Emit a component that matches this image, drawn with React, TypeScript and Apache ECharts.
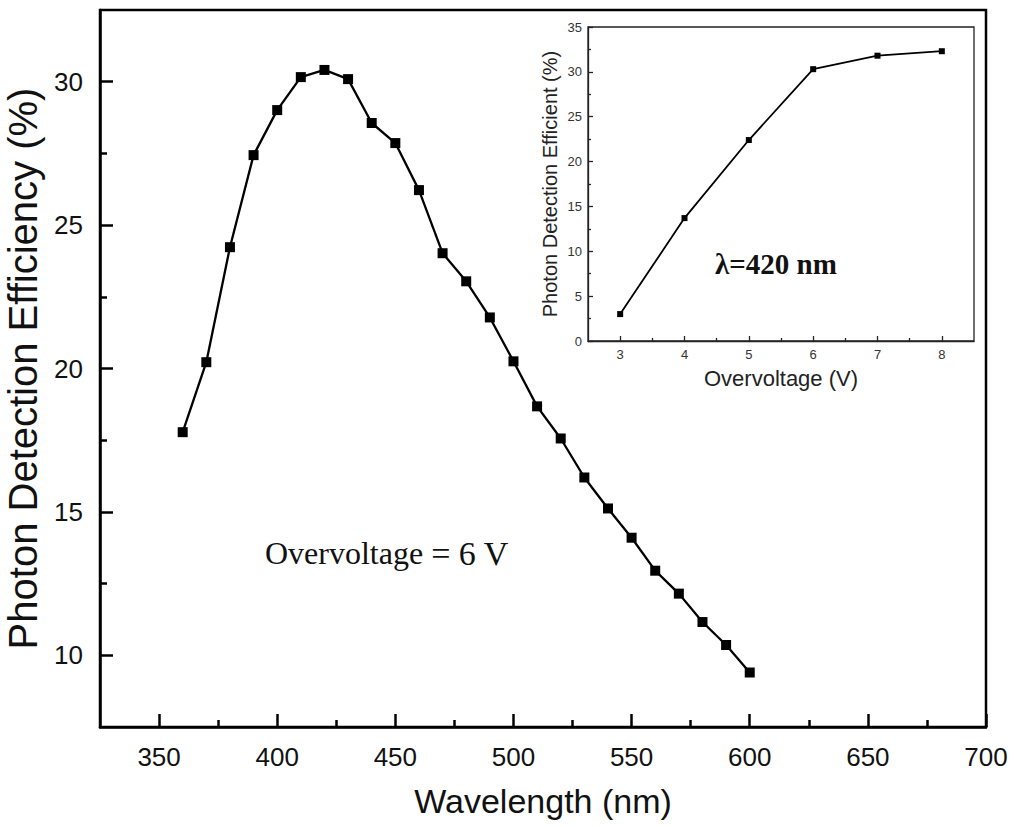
import React, { useEffect, useRef } from "react";
import * as echarts from "echarts";

const wavelengths = [360, 370, 380, 390, 400, 410, 420, 430, 440, 450, 460, 470, 480, 490, 500, 510, 520, 530, 540, 550, 560, 570, 580, 590, 600];
const pde = [17.78, 20.22, 24.23, 27.44, 29.01, 30.16, 30.41, 30.09, 28.56, 27.86, 26.22, 24.02, 23.04, 21.78, 20.25, 18.68, 17.56, 16.2, 15.12, 14.1, 12.95, 12.15, 11.16, 10.36, 9.4];

const overvoltages = [3, 4, 5, 6, 7, 8];
const pdeVsOv = [3.0, 13.7, 22.4, 30.3, 31.8, 32.3];

const xMajor = [350, 400, 450, 500, 550, 600, 650, 700];
const xMinor = [375, 425, 475, 525, 575, 625, 675];
const yMajor = [10, 15, 20, 25, 30];
const yMinor = [12.5, 17.5, 22.5, 27.5];

const insetXMajor = [3, 4, 5, 6, 7, 8];
const insetXMinor = [3.5, 4.5, 5.5, 6.5, 7.5];
const insetYMajor = [0, 5, 10, 15, 20, 25, 30, 35];
const insetYMinor = [2.5, 7.5, 12.5, 17.5, 22.5, 27.5, 32.5];

const SANS = "'Liberation Sans', Arial, sans-serif";
const SERIF = "'Liberation Serif', 'Times New Roman', serif";

export default function App() {
  const ref = useRef<HTMLDivElement>(null);
  useEffect(() => {
    if (!ref.current) return;
    const chart = echarts.init(ref.current, null, { renderer: "svg" });
    const black = "#000";
    const option: any = {
      animation: false,
      backgroundColor: "#fff",
      grid: [
        { left: 100, top: 10, right: 28, bottom: 100, show: true, borderColor: black, borderWidth: 2.5, backgroundColor: "transparent", containLabel: false, outerBoundsMode: "none" },
        { left: 588, top: 27, width: 386, height: 314, show: true, borderColor: "#222", borderWidth: 1.3, backgroundColor: "#fff", containLabel: false, outerBoundsMode: "none" },
      ],
      xAxis: [
        {
          type: "value", gridIndex: 0, min: 325, max: 700, position: "bottom",
          name: "Wavelength (nm)", nameLocation: "middle", nameGap: 57,
          nameTextStyle: { fontFamily: SANS, fontSize: 34, color: "#111" },
          axisLine: { lineStyle: { color: black, width: 2.5 } },
          axisTick: { inside: true, length: 13, lineStyle: { color: black, width: 2.5 }, customValues: xMajor },
          axisLabel: { customValues: xMajor, fontFamily: SANS, fontSize: 26, color: "#111", margin: 17 },
          splitLine: { show: false },
        },
        {
          type: "value", gridIndex: 0, min: 325, max: 700, position: "bottom",
          axisLine: { show: false },
          axisTick: { inside: true, length: 7, lineStyle: { color: black, width: 2.5 }, customValues: xMinor },
          axisLabel: { show: false },
          splitLine: { show: false },
        },
        {
          type: "value", gridIndex: 1, min: 2.5, max: 8.5, position: "bottom",
          name: "Overvoltage (V)", nameLocation: "middle", nameGap: 26,
          nameTextStyle: { fontFamily: SANS, fontSize: 22, color: "#222" },
          axisLine: { lineStyle: { color: "#222", width: 1.3 } },
          axisTick: { inside: true, length: 5, lineStyle: { color: "#222", width: 1.3 }, customValues: insetXMajor },
          axisLabel: { customValues: insetXMajor, fontFamily: SANS, fontSize: 13, color: "#333", margin: 7 },
          splitLine: { show: false },
        },
        {
          type: "value", gridIndex: 1, min: 2.5, max: 8.5, position: "bottom",
          axisLine: { show: false },
          axisTick: { inside: true, length: 3, lineStyle: { color: "#222", width: 1.3 }, customValues: insetXMinor },
          axisLabel: { show: false },
          splitLine: { show: false },
        },
      ],
      yAxis: [
        {
          type: "value", gridIndex: 0, min: 7.5, max: 32.5, position: "left",
          name: "Photon Detection Efficiency (%)", nameLocation: "middle", nameGap: 56,
          nameTextStyle: { fontFamily: SANS, fontSize: 40, color: "#111" },
          axisLine: { lineStyle: { color: black, width: 2.5 } },
          axisTick: { inside: true, length: 13, lineStyle: { color: black, width: 2.5 }, customValues: yMajor },
          axisLabel: { customValues: yMajor, fontFamily: SANS, fontSize: 26, color: "#111", margin: 17 },
          splitLine: { show: false },
        },
        {
          type: "value", gridIndex: 0, min: 7.5, max: 32.5, position: "left",
          axisLine: { show: false },
          axisTick: { inside: true, length: 7, lineStyle: { color: black, width: 2.5 }, customValues: yMinor },
          axisLabel: { show: false },
          splitLine: { show: false },
        },
        {
          type: "value", gridIndex: 1, min: 0, max: 35, position: "left",
          name: "Photon Detection Efficient (%)", nameLocation: "middle", nameGap: 28,
          nameTextStyle: { fontFamily: SANS, fontSize: 20, color: "#222" },
          axisLine: { lineStyle: { color: "#222", width: 1.3 } },
          axisTick: { inside: true, length: 5, lineStyle: { color: "#222", width: 1.3 }, customValues: insetYMajor },
          axisLabel: { customValues: insetYMajor, fontFamily: SANS, fontSize: 13, color: "#333", margin: 6 },
          splitLine: { show: false },
        },
        {
          type: "value", gridIndex: 1, min: 0, max: 35, position: "left",
          axisLine: { show: false },
          axisTick: { inside: true, length: 3, lineStyle: { color: "#222", width: 1.3 }, customValues: insetYMinor },
          axisLabel: { show: false },
          splitLine: { show: false },
        },
      ],
      series: [
        {
          type: "line", xAxisIndex: 0, yAxisIndex: 0,
          data: wavelengths.map((w, i) => [w, pde[i]]),
          symbol: "rect", symbolSize: 10,
          itemStyle: { color: black },
          lineStyle: { color: black, width: 2.3 },
          z: 5,
        },
        {
          type: "line", xAxisIndex: 2, yAxisIndex: 2,
          data: overvoltages.map((v, i) => [v, pdeVsOv[i]]),
          symbol: "rect", symbolSize: 6,
          itemStyle: { color: black },
          lineStyle: { color: black, width: 1.8 },
          z: 5,
        },
      ],
      graphic: [
        {
          type: "text", left: 265, top: 536, z: 10,
          style: {
            text: "{a|Overvoltage }{b|= 6 V}",
            rich: {
              a: { fontFamily: SERIF, fontSize: 32, fill: "#111" },
              b: { fontFamily: SERIF, fontSize: 34, fill: "#111" },
            },
          },
        },
        {
          type: "text", left: 715, top: 249, z: 10,
          style: { text: "λ=420 nm", fontFamily: SERIF, fontSize: 29, fontWeight: "bold", fill: "#111" },
        },
      ],
    };
    chart.setOption(option);
    return () => chart.dispose();
  }, []);
  return <div ref={ref} style={{ position: "absolute", left: 0, top: 0, width: 1014, height: 827 }} />;
}
